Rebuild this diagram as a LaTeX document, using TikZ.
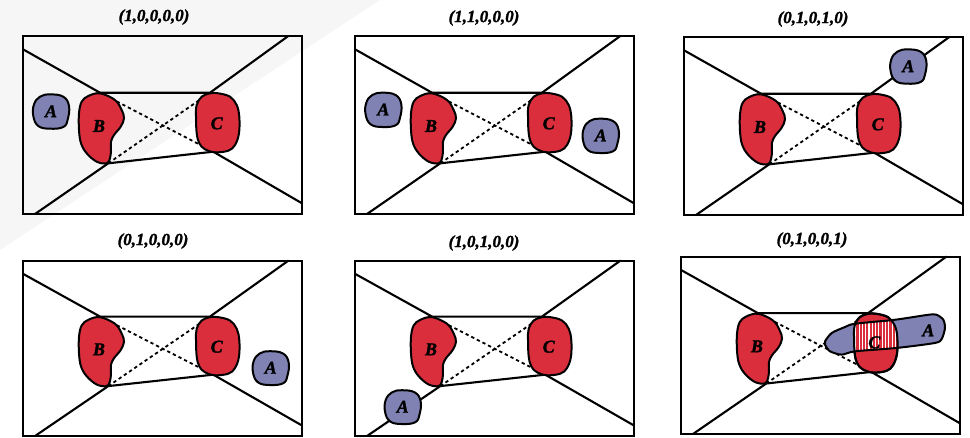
\documentclass[tikz,border=0pt]{standalone}
\usepackage{fontspec}
\setmainfont{Liberation Serif}
\newfontfamily\labfont[BoldItalicFeatures={FakeBold=1.6}]{Liberation Serif}
\definecolor{blobred}{RGB}{218,46,60}
\definecolor{blobblue}{RGB}{128,130,180}
\definecolor{bggray}{RGB}{246,246,246}
\tikzset{
  frame/.style={line width=2.1pt},
  ray/.style={line width=2.1pt, line cap=round},
  dashline/.style={line width=1.8pt, dash pattern=on 3.3pt off 3pt},
  redblob/.style={fill=blobred, draw=black, line width=2pt},
  blueblob/.style={fill=blobblue, draw=black, line width=2pt},
  outl/.style={draw=black, line width=2pt},
  lab/.style={font=\labfont\bfseries\itshape\fontsize{18}{18}\selectfont, inner sep=0pt},
  ttl/.style={font=\labfont\bfseries\itshape\fontsize{17}{17}\selectfont, inner sep=0pt},
}
\newcommand\Bshape{plot[smooth cycle, tension=0.6] coordinates {(77,57.3) (92,64) (98.7,74) (101,82.3) (97.7,90.7) (91,99) (88,105.7) (88,114) (87,122.3) (83.7,127.3) (73.7,125.7) (63.7,117.3) (58,107.3) (56,94) (56,77.3) (58.7,65.7) (65.3,60)}}
\newcommand\Cshape{plot[smooth cycle, tension=0.6] coordinates {(187,57.3) (195.3,57.3) (207,60.7) (213.7,69) (216.3,80.7) (216,97.3) (212,109) (205.3,114.7) (192,116.3) (182,113.3) (176.3,107.3) (173.7,97.3) (173,80.7) (173.7,69) (178.7,60.7)}}
\newcommand\longAshape{plot[smooth cycle, tension=0.45] coordinates {(144,85) (150.7,76.6) (164,70.6) (174,67.3) (214,63.3) (247.3,58.3) (255.7,58.3) (262.3,63.3) (264,71.6) (260.7,82.6) (254,86.6) (215.7,91.6) (174,95) (160.7,98.3) (149,95) (144,88.3)}}
\newcommand\basepanel[1]{%
  \coordinate (#1tl) at (77,56.7);
  \coordinate (#1tr) at (187,56.7);
  \coordinate (#1bl) at (85.3,127.3);
  \coordinate (#1br) at (190.3,115.7);
  \coordinate (#1e1) at (0,13.3);
  \coordinate (#1e2) at (265.3,0);
  \coordinate (#1e3) at (12,178);
  \coordinate (#1e4) at (279,167.3);
  \draw[dashline] (#1tl) -- (#1br);
  \draw[dashline] (#1bl) -- (#1tr);
  \draw[ray] (#1e1) -- (#1tl) -- (#1tr) -- (#1e2);
  \draw[ray] (#1e3) -- (#1bl) -- (#1br) -- (#1e4);
  \draw[redblob] \Bshape;
  \draw[redblob] \Cshape;
  \draw[frame] (0,0) rectangle (279,178);
}
\newcommand\bclabels[1]{%
  \node[lab] (#1B) at (76,90) {B};
  \node[lab] (#1C) at (193.7,87.3) {C};
}
\newcommand\smallA[3]{%
  \begin{scope}[shift={(#1,#2)}]
    \draw[blueblob] plot[smooth cycle, tension=0.7] coordinates {(-1,-17.3) (12.3,-15) (18,-5.7) (16.7,7.7) (12.3,15.3) (-1,17) (-12.7,14.3) (-17.7,4.3) (-17,-7.3) (-11,-15)};
    \node[lab] (#3) at (0,-0.5) {A};
  \end{scope}
}
\begin{document}
\begin{tikzpicture}[x=1pt,y=-1pt]
\useasboundingbox (0,0) rectangle (970,437);
\fill[bggray] (0,0) -- (380,0) -- (0,250) -- cycle;

% titles
\node[ttl] (t1) at (154,17) {(1,0,0,0,0)};
\node[ttl] (t2) at (484,18) {(1,1,0,0,0)};
\node[ttl] (t3) at (813,19) {(0,1,0,1,0)};
\node[ttl] (t4) at (153,241) {(0,1,0,0,0)};
\node[ttl] (t5) at (484,243) {(1,0,1,0,0)};
\node[ttl] (t6) at (812,240) {(0,1,0,0,1)};

% panel 1
\begin{scope}[shift={(23,36)}]
  \basepanel{p1}
  \bclabels{p1}
  \smallA{28}{75.7}{p1A}
\end{scope}

% panel 2
\begin{scope}[shift={(355,36)}]
  \basepanel{p2}
  \bclabels{p2}
  \smallA{28.3}{74}{p2Aa}
  \smallA{245.7}{100}{p2Ab}
\end{scope}

% panel 3
\begin{scope}[shift={(684,37)}]
  \basepanel{p3}
  \bclabels{p3}
  \smallA{224.3}{29.7}{p3A}
\end{scope}

% panel 4
\begin{scope}[shift={(23,260.7)}, yscale=0.985]
  \basepanel{p4}
  \bclabels{p4}
  \smallA{247.7}{109.2}{p4A}
\end{scope}

% panel 5
\begin{scope}[shift={(355,260.7)}, yscale=0.985]
  \basepanel{p5}
  \bclabels{p5}
  \smallA{47.7}{148.8}{p5A}
\end{scope}

% panel 6
\begin{scope}[shift={(681,256.7)}, yscale=0.996]
  \basepanel{p6}
  \fill[blobblue] \longAshape;
  \begin{scope}
    \clip \longAshape;
    \clip \Cshape;
    \fill[blobred] (165,50) rectangle (225,125);
    \foreach \x in {171.5,174.8,...,222} \draw[white, line width=1.1pt] (\x,50) -- (\x,125);
  \end{scope}
  \draw[outl] \Cshape;
  \draw[outl] \longAshape;
  \node[lab] (p6B) at (76,90) {B};
  \node[lab] (p6C) at (193.3,86) {C};
  \node[lab] (p6A) at (247.3,74) {A};
\end{scope}
\end{tikzpicture}
\end{document}
